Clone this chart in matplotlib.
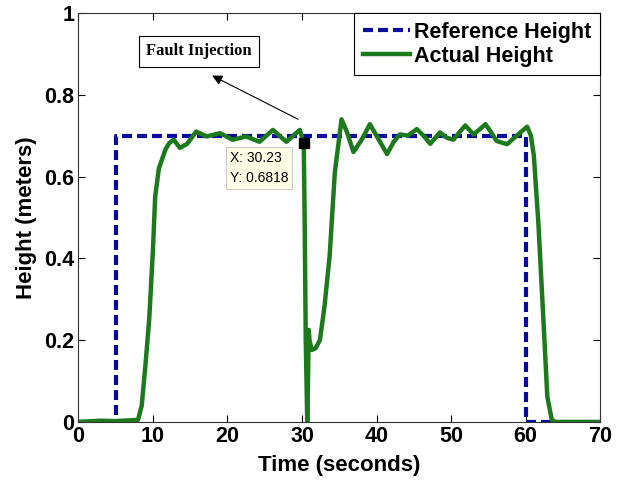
import matplotlib.pyplot as plt
import numpy as np

plt.rcParams['font.family'] = ['Liberation Sans', 'DejaVu Sans']

# reference height (step input)
t_ref = [0, 5, 5, 60, 60, 63.5]
h_ref = [0, 0, 0.7, 0.7, 0, 0]

# actual height
t_act = [0, 3, 5, 8.0, 8.5, 9.0, 9.5, 10.0, 10.3, 10.8, 11.7, 12.2, 12.8, 13.6,
         14.6, 15.8, 17.2, 19.0, 20.7, 22.5, 24.3, 26.1, 27.9, 29.7, 30.23,
         30.35, 30.5, 30.7, 30.8, 30.9, 31.0, 31.3, 31.8, 32.4, 33.0, 33.7,
         34.4, 35.3, 36.0, 36.9, 38.0, 39.1, 40.3, 41.4, 42.3, 43.1, 44.2,
         45.4, 46.3, 47.2, 48.5, 49.4, 50.3, 51.2, 51.9, 53.0, 53.8, 54.6,
         55.3, 56.1, 57.5, 58.8, 60.2, 60.7, 61.1, 61.7, 62.4, 62.9, 63.5,
         64, 70]
h_act = [0, 0.003, 0.002, 0.005, 0.04, 0.14, 0.25, 0.42, 0.55, 0.62, 0.667,
         0.682, 0.69, 0.67, 0.68, 0.71, 0.698, 0.706, 0.69, 0.698, 0.685,
         0.714, 0.685, 0.714, 0.6818, 0.5, 0.2, 0.0, 0.1, 0.225, 0.2, 0.176,
         0.18, 0.2, 0.28, 0.405, 0.61, 0.74, 0.71, 0.66, 0.69, 0.728, 0.69,
         0.655, 0.685, 0.703, 0.7, 0.716, 0.7, 0.68, 0.708, 0.695, 0.69,
         0.71, 0.725, 0.703, 0.715, 0.728, 0.71, 0.687, 0.679, 0.7, 0.722,
         0.7, 0.65, 0.487, 0.242, 0.062, 0.005, 0, 0]

tip_x, tip_y = 30.23, 0.6818

fig = plt.figure(figsize=(6.22, 4.8), dpi=100)
ax = fig.add_axes([0.126, 0.121, 0.839, 0.852])

ax.plot(t_ref, h_ref, color='#0a0a9e', lw=3.0, dashes=(2.4, 1.2),
        label='Reference Height')
ax.plot(t_act, h_act, color='#1c7a1c', lw=3.2, label='Actual Height')

# data tip
ax.plot(tip_x, tip_y, 's', color='black', ms=6.5, zorder=5)
ax.text(20.3, 0.662, 'X: 30.23\nY: 0.6818', fontsize=10, va='top', ha='left',
        linespacing=1.5,
        bbox=dict(boxstyle='square,pad=0.3', facecolor='#ffffe6',
                  edgecolor='#cccccc', lw=0.8))

# fault injection note
ax.annotate('', xy=(17.6, 0.85), xytext=(29.8, 0.737),
            arrowprops=dict(arrowstyle='-|>', color='black', lw=0.8,
                            mutation_scale=15))
ax.text(16.2, 0.906, 'Fault Injection', fontsize=12, fontweight='bold',
        family='Liberation Serif', ha='center', va='center',
        bbox=dict(boxstyle='square,pad=0.45', facecolor='white',
                  edgecolor='black', lw=0.8))

ax.set_xlim(0, 70)
ax.set_ylim(0, 1)
ax.set_xticks(range(0, 71, 10))
ax.set_yticks([0, 0.2, 0.4, 0.6, 0.8, 1])
ax.set_yticklabels(['0', '0.2', '0.4', '0.6', '0.8', '1'])
ax.tick_params(direction='in', top=True, right=True, labelsize=15.5,
               length=5, width=0.8, pad=3)
for lab in ax.get_xticklabels() + ax.get_yticklabels():
    lab.set_fontweight('bold')
for s in ax.spines.values():
    s.set_linewidth(0.8)
    s.set_color('#333333')

ax.set_xlabel('Time (seconds)', fontsize=16, fontweight='bold', labelpad=6)
ax.set_ylabel('Height (meters)', fontsize=16, fontweight='bold', labelpad=5)

leg = ax.legend(loc='upper right', bbox_to_anchor=(1, 1), borderaxespad=0,
                prop={'weight': 'bold', 'size': 15.5}, fancybox=False,
                handlelength=2.2, handletextpad=0.2, borderpad=0.4,
                labelspacing=0.15, framealpha=1)
leg.get_frame().set_edgecolor('black')
leg.get_frame().set_linewidth(0.8)

fig.savefig('out.png', dpi=100)
